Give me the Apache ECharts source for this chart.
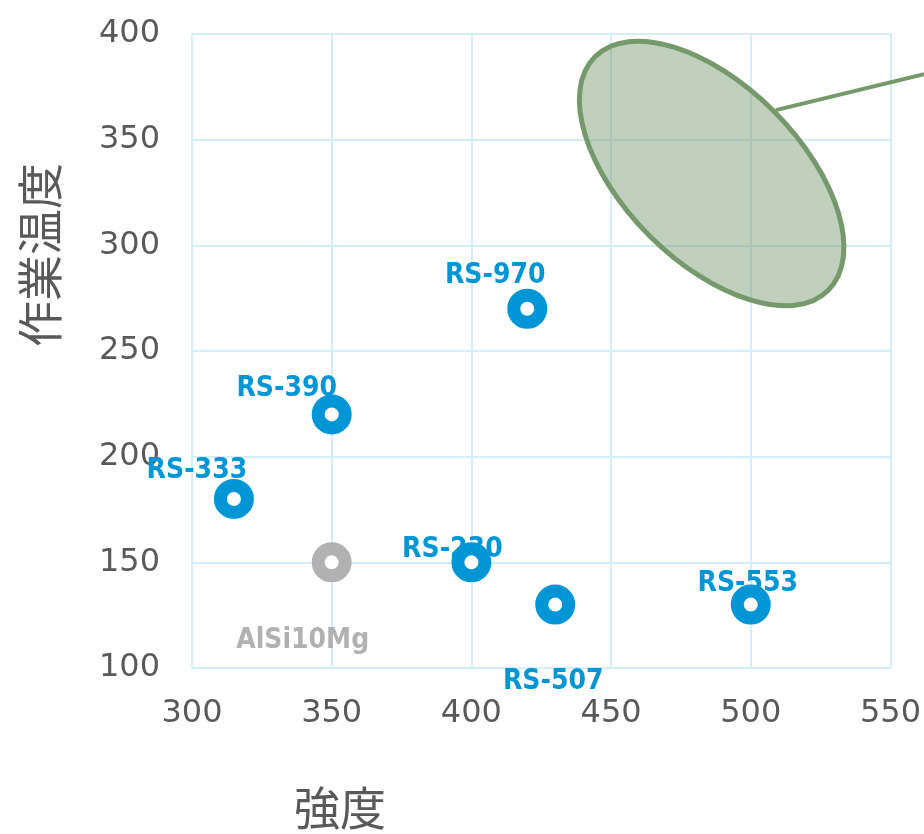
<!DOCTYPE html>
<html>
<head>
<meta charset="utf-8">
<script src="https://cdn.jsdelivr.net/npm/echarts@6/dist/echarts.min.js"></script>
<style>
  html, body { margin: 0; padding: 0; background: #fff; }
  #main { width: 924px; height: 834px; }
</style>
</head>
<body>
<div id="main"></div>
<script>
// materials: name, strength (x), working temperature (y)
var names = ['RS-970', 'RS-390', 'RS-333', 'RS-230', 'RS-507', 'RS-553'];
var strength = [420, 350, 315, 400, 430, 500];
var workTemp = [270, 220, 180, 150, 130, 130];

var refName = 'AlSi10Mg';
var refStrength = 350;
var refTemp = 150;

var xTicks = [300, 350, 400, 450, 500, 550];
var yTicks = [100, 150, 200, 250, 300, 350, 400];

// highlighted region (ellipse centre in data units) and its leader line
var regionCenter = [486, 334];
var leaderFrom = [509, 364];
var leaderTo = [562, 381];

var BLUE = '#0096d6';
var GRAY = '#b1b1b1';
var GRID = '#d3eefb';
var TEXT = '#595959';

// label offsets (px) relative to each point
var labelOffsets = {
  'RS-970': [-32, -33],
  'RS-390': [-45, -26],
  'RS-333': [-37, -28],
  'RS-230': [-19, -13],
  'RS-507': [-2, 77],
  'RS-553': [-3, -21],
  'AlSi10Mg': [-29, 78]
};

var labelFont = '"DejaVu Sans Condensed", "Liberation Sans Narrow", sans-serif';

function points() {
  var arr = [];
  for (var i = 0; i < names.length; i++) {
    arr.push({ name: names[i], value: [strength[i], workTemp[i]] });
  }
  return arr;
}

function labelData() {
  var arr = points().map(function (p) {
    p.label = { offset: labelOffsets[p.name], color: BLUE };
    return p;
  });
  arr.push({
    name: refName,
    value: [refStrength, refTemp],
    label: { offset: labelOffsets[refName], color: GRAY }
  });
  return arr;
}

var chart = echarts.init(document.getElementById('main'));

var option = {
  animation: false,
  backgroundColor: '#fff',
  grid: { left: 192, right: 32, top: 34, bottom: 166 },
  xAxis: {
    type: 'value',
    min: xTicks[0],
    max: xTicks[xTicks.length - 1],
    interval: 50,
    axisLine: { show: true, lineStyle: { color: GRID, width: 2 } },
    axisTick: { show: false },
    splitLine: { show: true, lineStyle: { color: GRID, width: 2 } },
    axisLabel: {
      margin: 30,
      color: TEXT,
      fontSize: 32,
      fontFamily: 'DejaVu Sans'
    }
  },
  yAxis: {
    type: 'value',
    min: yTicks[0],
    max: yTicks[yTicks.length - 1],
    interval: 50,
    axisLine: { show: true, lineStyle: { color: GRID, width: 2 } },
    axisTick: { show: false },
    splitLine: { show: true, lineStyle: { color: GRID, width: 2 } },
    axisLabel: {
      margin: 32,
      color: TEXT,
      fontSize: 32,
      fontFamily: 'DejaVu Sans'
    }
  },
  series: [
    {
      // labels only, drawn below the markers
      type: 'scatter',
      z: 2,
      symbolSize: 0,
      silent: true,
      itemStyle: { opacity: 1 },
      label: {
        show: true,
        position: 'inside',
        formatter: '{b}',
        fontFamily: labelFont,
        fontWeight: 'bold',
        fontSize: 28
      },
      data: labelData()
    },
    {
      type: 'scatter',
      z: 3,
      symbol: 'circle',
      symbolSize: 27,
      itemStyle: { color: '#fff', borderColor: GRAY, borderWidth: 13, opacity: 1 },
      data: [[refStrength, refTemp]]
    },
    {
      type: 'scatter',
      z: 3,
      symbol: 'circle',
      symbolSize: 27,
      itemStyle: { color: '#fff', borderColor: BLUE, borderWidth: 13, opacity: 1 },
      data: points()
    }
  ]
};

chart.setOption(option);

var c = chart.convertToPixel({ gridIndex: 0 }, regionCenter);
var p1 = chart.convertToPixel({ gridIndex: 0 }, leaderFrom);
var p2 = chart.convertToPixel({ gridIndex: 0 }, leaderTo);

chart.setOption({
  graphic: [
    {
      type: 'line',
      z: 10,
      shape: { x1: p1[0], y1: p1[1], x2: p2[0], y2: p2[1] },
      style: { stroke: '#76996c', lineWidth: 4 }
    },
    {
      type: 'ellipse',
      z: 11,
      x: c[0],
      y: c[1],
      rotation: -Math.PI / 4,
      shape: { cx: 0, cy: 0, rx: 165, ry: 88 },
      style: { fill: 'rgba(118,153,108,0.46)', stroke: '#76996c', lineWidth: 5 }
    },
    {
      type: 'text',
      x: 40,
      y: 255,
      rotation: Math.PI / 2,
      style: {
        text: '作業温度',
        fill: TEXT,
        fontSize: 46,
        fontFamily: '"Noto Sans CJK JP"',
        align: 'center',
        verticalAlign: 'middle'
      }
    },
    {
      type: 'text',
      x: 340,
      y: 808,
      style: {
        text: '強度',
        fill: TEXT,
        fontSize: 46,
        fontFamily: '"Noto Sans CJK JP"',
        align: 'center',
        verticalAlign: 'middle'
      }
    }
  ]
});
</script>
</body>
</html>
